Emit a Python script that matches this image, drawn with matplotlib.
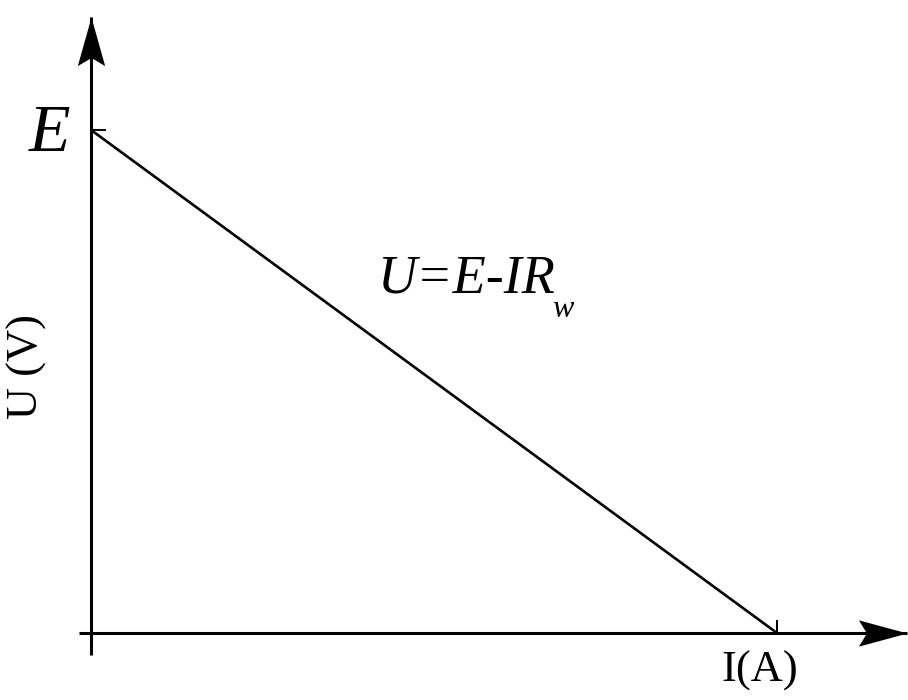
import matplotlib
matplotlib.use("Agg")
import matplotlib.pyplot as plt
from matplotlib.path import Path

plt.rcParams['font.family'] = ['Liberation Serif', 'DejaVu Serif']

# normalised values: EMF and short-circuit current
emf = 1.0
i_short = 1.0
current = [0.0, i_short]
voltage = [emf, 0.0]

# axis extents (in data units)
x_axis = [-0.0175, 1.1895]
y_axis = [-0.0437, 1.2247]

fig = plt.figure(figsize=(9.08, 7.0), dpi=100)
ax = fig.add_axes([0, 0, 1, 1])
ax.set_xlim(-0.1327, 1.191)
ax.set_ylim(-0.1332, 1.2584)
ax.axis('off')

# stealth-like arrow heads, tip at the path origin
head_x = Path([(0, 0), (-48, 13), (-40, 0), (-48, -13), (0, 0)],
              [Path.MOVETO, Path.LINETO, Path.LINETO, Path.LINETO, Path.CLOSEPOLY])
head_y = Path([(0, 0), (13.5, -48), (0, -40), (-13.5, -48), (0, 0)],
              [Path.MOVETO, Path.LINETO, Path.LINETO, Path.LINETO, Path.CLOSEPOLY])

ax.plot(x_axis, [0, 0], color='black', lw=2.2, solid_capstyle='butt')
ax.plot([0, 0], y_axis, color='black', lw=2.2, solid_capstyle='butt')
ax.plot([x_axis[1]], [0], marker=head_x, markersize=70, color='black',
        markeredgewidth=0)
ax.plot([0], [y_axis[1]], marker=head_y, markersize=70, color='black',
        markeredgewidth=0)

# small ticks at E and at I_short
ax.plot([0, 0.02], [emf, emf], color='black', lw=1.4)
ax.plot([i_short, i_short], [0, 0.024], color='black', lw=1.4)

# characteristic U = E - I*Rw
ax.plot(current, voltage, color='black', lw=1.9, solid_capstyle='butt')

ax.text(-0.03, 0.991, 'E', fontsize=49, fontstyle='italic',
        ha='right', va='center')
ax.text(-0.093, 0.53, 'U (V)', fontsize=32, rotation=90,
        ha='center', va='center')
ax.text(0.975, -0.076, 'I(A)', fontsize=32, ha='center', va='center')

ax.text(0.417, 0.676, 'U=E-IR', fontsize=39, fontstyle='italic',
        ha='left', va='baseline')
ax.text(0.672, 0.628, 'w', fontsize=23, fontstyle='italic',
        ha='left', va='baseline')

fig.savefig('out.png', dpi=100)
